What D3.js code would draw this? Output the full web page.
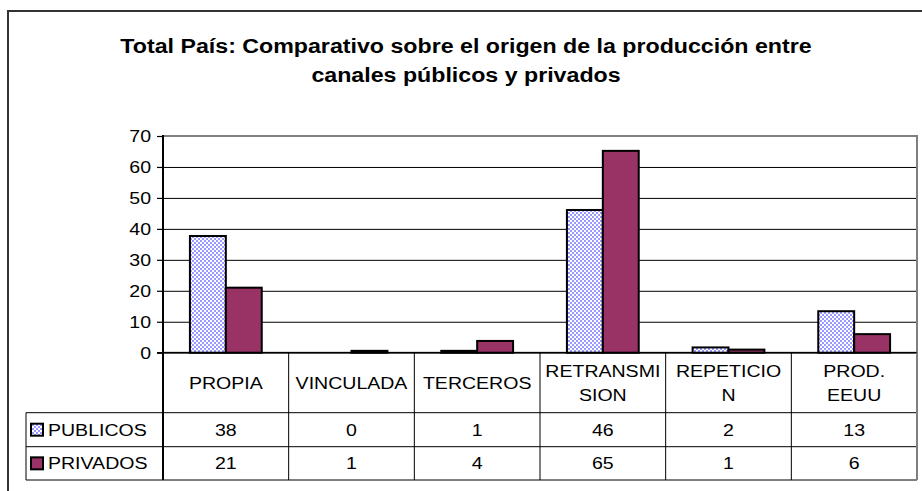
<!DOCTYPE html>
<meta charset="utf-8">
<style>
body { margin: 0; background: #fff; }
text { font-family: "Liberation Sans", Arial, sans-serif; fill: #000; }
.grid line { stroke: #000; stroke-width: 1; }
.grid path { display: none; }
.axis--y path { display: none; }
.axis--y line { stroke: #000; stroke-width: 1.2; }
</style>
<body>
<script src="https://d3js.org/d3.v7.min.js"></script>
<script>
// data
var categories = [["PROPIA"], ["VINCULADA"], ["TERCEROS"], ["RETRANSMI", "SION"], ["REPETICIO", "N"], ["PROD.", "EEUU"]];
var seriesNames = ["PUBLICOS", "PRIVADOS"];
var publicos = [37.7, 0, 0.6, 46.1, 1.7, 13.4];
var privados = [21.0, 0.6, 3.8, 65.2, 1.0, 6.0];
var yTicks = [0, 10, 20, 30, 40, 50, 60, 70];
var titleLines = ["Total País: Comparativo sobre el origen de la producción entre", "canales públicos y privados"];

var w = 922, h = 491;
var sx = 1.15; // text in the picture is drawn wide
var svg = d3.select("body").append("svg").attr("width", w).attr("height", h);

var left = 163, right = 917, plotTop = 136, base = 352.7,
    tableLeft = 26, rowH = [412.7, 446.7, 480];

var defs = svg.append("defs");
var pat = defs.append("pattern")
    .attr("id", "checker")
    .attr("patternUnits", "userSpaceOnUse")
    .attr("width", 4).attr("height", 4);
pat.append("rect").attr("width", 4).attr("height", 4).attr("fill", "#fff");
pat.append("rect").attr("width", 2).attr("height", 2).attr("fill", "#9999ff");
pat.append("rect").attr("x", 2).attr("y", 2).attr("width", 2).attr("height", 2).attr("fill", "#9999ff");
var fills = ["url(#checker)", "#993366"];

function label(g, x, y, txt, opts) {
  opts = opts || {};
  return g.append("text")
    .attr("transform", "translate(" + x + "," + y + ") scale(" + (opts.sx || sx) + ",1)")
    .attr("text-anchor", opts.anchor || "middle")
    .attr("dy", "0.35em")
    .style("font-size", (opts.size || 17) + "px")
    .style("font-weight", opts.weight || "normal")
    .text(txt);
}

// outer frame
svg.append("rect")
    .attr("x", 8).attr("y", 11).attr("width", 1000).attr("height", 600)
    .attr("fill", "none").attr("stroke", "#333").attr("stroke-width", 2);

// title
titleLines.forEach(function(t, i) {
  label(svg, 466, 46 + i * 29, t, {size: 20, weight: "bold", sx: 1.16});
});

var x0 = d3.scaleBand().domain(d3.range(categories.length)).range([left, right]);
var x1 = d3.scaleBand().domain(seriesNames).range([0, x0.bandwidth()]).paddingInner(0).paddingOuter(0.75);
var y = d3.scaleLinear().domain([0, 70]).range([base, plotTop]);

// gridlines
svg.append("g")
    .attr("class", "grid")
    .attr("transform", "translate(" + left + ",0)")
    .call(d3.axisLeft(y).tickValues(yTicks.slice(1, -1)).tickSize(-(right - left)).tickFormat(""));

// plot area border
svg.append("rect")
    .attr("x", left).attr("y", plotTop).attr("width", right - left).attr("height", base - plotTop)
    .attr("fill", "none").attr("stroke", "#808080").attr("stroke-width", 2);

// bars
var series = [publicos, privados];
series.forEach(function(vals, s) {
  svg.append("g").selectAll("rect")
    .data(vals)
    .enter().append("rect")
      .attr("x", function(d, i) { return x0(i) + x1(seriesNames[s]); })
      .attr("y", function(d) { return y(d); })
      .attr("width", x1.bandwidth())
      .attr("height", function(d) { return base - y(d); })
      .attr("fill", fills[s])
      .attr("stroke", "#000")
      .attr("stroke-width", 2)
      .style("display", function(d) { return d > 0 ? null : "none"; });
});

// y axis
svg.append("g")
    .attr("class", "axis axis--y")
    .attr("transform", "translate(" + left + ",0)")
    .call(d3.axisLeft(y).tickValues(yTicks).tickSize(6).tickFormat(""));
yTicks.forEach(function(t) {
  label(svg, left - 12, y(t), t, {anchor: "end"});
});
svg.append("line")
    .attr("x1", left).attr("x2", left).attr("y1", plotTop - 1).attr("y2", rowH[2])
    .attr("stroke", "#000").attr("stroke-width", 2);
svg.append("line")
    .attr("x1", left - 6).attr("x2", right).attr("y1", base).attr("y2", base)
    .attr("stroke", "#000").attr("stroke-width", 1.5);

// data table
var tg = svg.append("g");
rowH.forEach(function(r) {
  tg.append("line").attr("x1", tableLeft).attr("x2", right).attr("y1", r).attr("y2", r)
    .attr("stroke", "#000").attr("stroke-width", 1);
});
tg.append("line").attr("x1", tableLeft).attr("x2", tableLeft).attr("y1", rowH[0]).attr("y2", rowH[2])
    .attr("stroke", "#000").attr("stroke-width", 1);
categories.forEach(function(c, i) {
  if (i > 0) {
    tg.append("line").attr("x1", x0(i)).attr("x2", x0(i)).attr("y1", base).attr("y2", rowH[2])
      .attr("stroke", "#000").attr("stroke-width", 1);
  }
  var cx = x0(i) + x0.bandwidth() / 2, cy = (base + rowH[0]) / 2;
  c.forEach(function(line, k) {
    label(tg, cx, cy + (k - (c.length - 1) / 2) * 24, line);
  });
});
tg.append("line").attr("x1", right).attr("x2", right).attr("y1", base).attr("y2", rowH[2])
    .attr("stroke", "#808080").attr("stroke-width", 2);

var fmt = d3.format(".0f");
series.forEach(function(vals, s) {
  var cy = (rowH[s] + rowH[s + 1]) / 2;
  tg.append("rect")
    .attr("x", 31).attr("y", cy - 6).attr("width", 12).attr("height", 12)
    .attr("fill", fills[s]).attr("stroke", "#000").attr("stroke-width", 2);
  label(tg, 48, cy, seriesNames[s], {anchor: "start"});
  vals.forEach(function(v, i) {
    label(tg, x0(i) + x0.bandwidth() / 2, cy, fmt(v));
  });
});
</script>
</body>
